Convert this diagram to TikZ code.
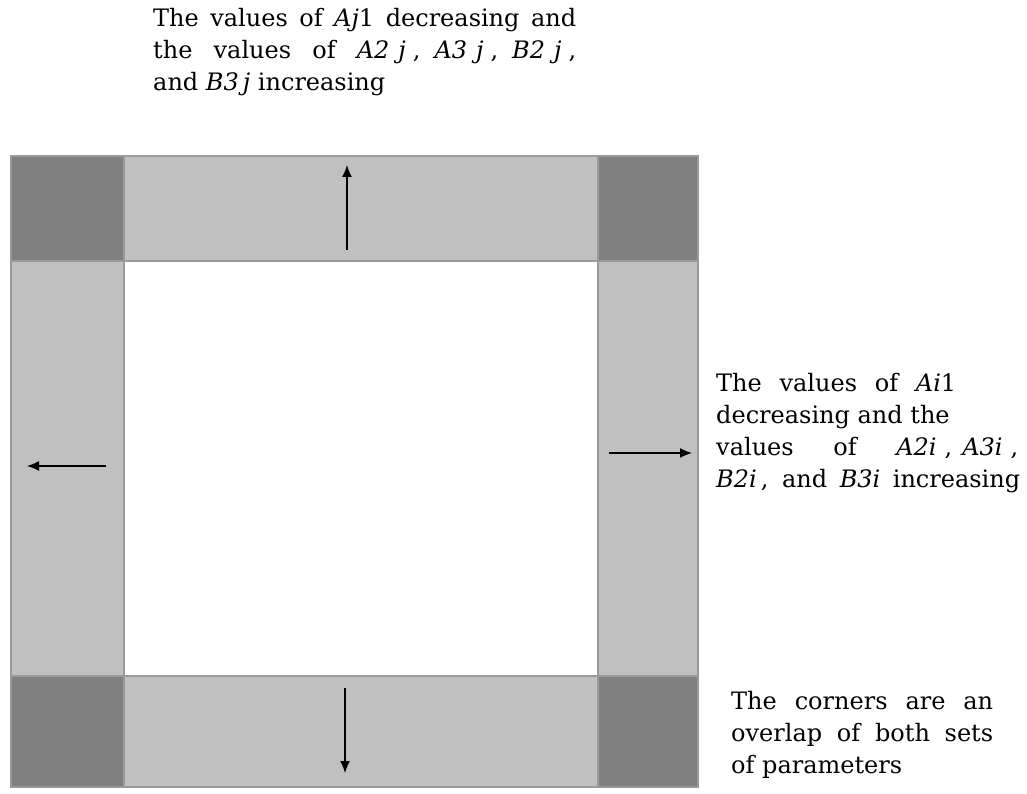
\documentclass[tikz,border=0pt]{standalone}
\usepackage{fontspec}
\setmainfont{DejaVu Serif}
\usetikzlibrary{arrows.meta}
\definecolor{lightband}{HTML}{C0C0C0}
\definecolor{darkcorner}{HTML}{808080}
\definecolor{edgegray}{HTML}{9A9A9A}
\newcommand{\vv}[1]{\textit{#1}}
% an indexed parameter such as A2j, set with equation-style spacing
\newcommand{\parm}[2]{\vv{#1}\hspace{9pt}\vv{#2}\hspace{7pt},}
\tikzset{
  band/.style={fill=lightband, draw=edgegray, line width=1.2pt},
  corner/.style={fill=darkcorner, draw=edgegray, line width=1.2pt},
  push/.style={-{Latex[length=12pt,width=10pt]}, line width=1.5pt},
  caption/.style={anchor=base west, inner sep=0pt, font=\fontsize{24}{32}\selectfont}
}
\begin{document}
\begin{tikzpicture}[x=1pt,y=-1pt]
\useasboundingbox (0,0) rectangle (1027,794);
% side bands
\draw[band] (124,156) rectangle (598,261);
\draw[band] (124,676) rectangle (598,787);
\draw[band] (11,261) rectangle (124,676);
\draw[band] (598,261) rectangle (698,676);
% corner squares where both bands overlap
\draw[corner] (11,156) rectangle (124,261);
\draw[corner] (598,156) rectangle (698,261);
\draw[corner] (11,676) rectangle (124,787);
\draw[corner] (598,676) rectangle (698,787);
% direction arrows
\coordinate (tA) at (347,250); \coordinate (tB) at (347,165);
\coordinate (bA) at (345,688); \coordinate (bB) at (345,773);
\coordinate (lA) at (106,466); \coordinate (lB) at (27,466);
\coordinate (rA) at (609,453); \coordinate (rB) at (692,453);
\draw[push] (tA) -- (tB);
\draw[push] (bA) -- (bB);
\draw[push] (lA) -- (lB);
\draw[push] (rA) -- (rB);
% captions
\node[caption] (top) at (153,27) {\parbox[t]{423pt}{\fontsize{24}{32}\selectfont
  The values of \vv{Aj}1 decreasing and\linebreak
  the values of \mbox{\parm{A2}{j}\hspace{14pt}\parm{A3}{j}\hspace{14pt}\parm{B2}{j}}\linebreak
  and \vv{B3\,j} increasing}};
\node[caption] (right) at (716,391) {\parbox[t]{304pt}{\fontsize{24}{32}\selectfont
  \makebox[240pt][s]{The values of \vv{Ai}1}\\
  decreasing and the\\
  \makebox[302pt][s]{values of \mbox{\vv{A2i}\hspace{8pt},\hspace{10pt}\vv{A3i}\hspace{8pt},}}\\
  \makebox[304pt][s]{\vv{B2i}\,, and \vv{B3i} increasing}}};
\node[caption] (corners) at (731,709) {\parbox[t]{262pt}{\fontsize{24}{32}\selectfont
  The corners are an\linebreak
  overlap of both sets\linebreak
  of parameters}};
\end{tikzpicture}
\end{document}
